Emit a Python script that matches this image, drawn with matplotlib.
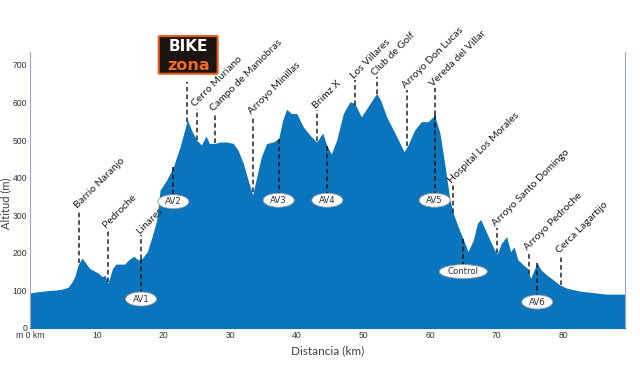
import numpy as np
import matplotlib
matplotlib.use("Agg")
import matplotlib.pyplot as plt
from matplotlib.patches import FancyBboxPatch, Ellipse

# elevation profile (km, m)
dist = [0, 1, 2, 3, 4, 4.7, 5.7, 6.2, 6.7, 7.2, 7.8, 8.9, 10.2, 10.9, 11.2, 11.7,
        12.4, 12.9, 14.2, 14.9, 15.6, 16.2, 16.7, 17.6, 18.3, 19.0, 19.5, 20.5,
        21.5, 22.5, 23.2, 23.6, 24.2, 25.0, 25.7, 26.4, 26.9, 27.7, 28.5, 29.5,
        30.5, 31.2, 32.0, 32.7, 33.4, 34.0, 34.7, 35.5, 36.5, 37.3, 37.9, 38.5,
        39.2, 40.0, 41.0, 42.0, 43.0, 43.9, 44.5, 45.2, 46.0, 47.0, 48.0, 48.7,
        49.7, 50.7, 51.5, 52.0, 52.6, 53.5, 54.5, 55.4, 56.1, 56.7, 57.7, 58.7,
        59.7, 60.7, 61.5, 62.2, 63.0, 63.5, 64.2, 65.0, 65.7, 66.5, 67.1, 67.6,
        68.2, 69.0, 69.7, 70.1, 70.7, 71.5, 72.1, 72.6, 73.2, 74.0, 74.6, 75.1,
        75.6, 76.1, 76.7, 77.5, 78.5, 79.5, 80.5, 82.5, 84.5, 86.5, 89.3]
alt = [93, 96, 98, 100, 101, 103, 108, 120, 136, 168, 186, 159, 146, 136, 141, 120,
       159, 170, 170, 183, 191, 181, 183, 203, 243, 287, 367, 394,
       429, 482, 527, 555, 527, 500, 487, 511, 491, 491, 495, 495,
       491, 473, 438, 394, 354, 402, 456, 491, 495, 504, 553, 582,
       571, 571, 535, 513, 495, 519, 487, 463, 500, 571, 602, 598,
       562, 589, 611, 624, 606, 562, 527, 495, 469, 487, 527, 549,
       549, 566, 518, 438, 340, 305, 270, 236, 203, 234, 278, 289,
       265, 234, 207, 197, 225, 243, 203, 216, 181, 168, 159, 132,
       154, 172, 154, 141, 128, 114, 106, 98, 94, 90, 90]

# named points: label, km, height of the label anchor (m)
wp_names = ["Barrio Naranjo", "Pedroche", "Linares", "Cerro Muriano",
            "Campo de Maniobras", "Arroyo Minillas", "Brimz X", "Los Villares",
            "Club de Golf", "Arroyo Don Lucas", "Vereda del Villar",
            "Hospital Los Morales", "Arroyo Santo Domingo", "Arroyo Pedroche",
            "Cerca Lagartijo"]
wp_km = [7.4, 11.65, 16.65, 25.0, 27.7, 33.5, 43.1, 48.8, 52.0, 56.6, 60.7,
         63.5, 70.0, 74.9, 79.6]
wp_top = [314, 262, 247, 584, 572, 564, 580, 660, 668, 633, 639, 380, 266, 202, 194]

# aid stations / control: label, km, height of the ellipse (m)
av_names = ["AV1", "AV2", "AV3", "AV4", "AV5", "Control", "AV6"]
av_km = [16.65, 21.5, 37.3, 44.6, 60.7, 65.0, 76.1]
av_y = [77, 336, 340, 340, 340, 150, 69]

blue = "#0a74bd"
dash = (0, (3, 2))

fig = plt.figure(figsize=(6.4, 3.84), dpi=100)
ax = fig.add_axes([0.047, 0.146, 0.93, 0.719])
ax.fill_between(dist, alt, 0, color=blue, lw=0)
ax.set_xlim(0, 89.3)
ax.set_ylim(0, 735)

for s in ["left", "right"]:
    ax.spines[s].set_color("#a0a0d8")
ax.spines["top"].set_visible(False)
ax.spines["bottom"].set_color(blue)

ax.set_yticks(range(0, 701, 100))
ax.set_xticks(range(0, 81, 10))
ax.set_xticklabels(["m 0 km"] + [str(v) for v in range(10, 81, 10)])
ax.tick_params(length=0, labelsize=6.2, colors="#333333", pad=2)
for lab in ax.get_xticklabels() + ax.get_yticklabels():
    lab.set_family("Liberation Sans")
ax.set_xlabel("Distancia (km)", fontsize=8.5, color="#404040", family="Lato", labelpad=4)
ax.set_ylabel("Altitud (m)", fontsize=8, color="#404040", family="Lato")
ax.yaxis.set_label_coords(-0.031, 0.45)

for name, k, top in zip(wp_names, wp_km, wp_top):
    ground = np.interp(k, dist, alt)
    ax.plot([k, k], [ground, top], color="#222222", lw=1.1, ls=dash, clip_on=False)
    ax.annotate(name, (k, top), xytext=(-1, 1), textcoords="offset points",
                rotation=45, rotation_mode="anchor", ha="left", va="baseline",
                fontsize=7.5, color="#1a1a1a", family="Lato", annotation_clip=False)

# ellipse sizes in data units (about 30 x 13 px, Control 48 px wide)
px_km = 89.3 / (0.93 * 640)
px_m = 735 / (0.719 * 384)
for name, k, yy in zip(av_names, av_km, av_y):
    ground = np.interp(k, dist, alt)
    ax.plot([k, k], [ground, yy], color="#111111", lw=1.1, ls=dash)
    w = 48 if name == "Control" else 31
    ax.add_patch(Ellipse((k, yy), w * px_km, 14 * px_m, fc="white", ec="#9a9a9a",
                         lw=0.6, zorder=3))
    ax.text(k, yy, name, ha="center", va="center", fontsize=6.2, color="#333333",
            family="DejaVu Sans", zorder=4)

# BIKE zona logo with its marker line to the first summit
logo_km = 23.5
ax.plot([logo_km, logo_km], [np.interp(logo_km, dist, alt), 655], color="#222222",
        lw=1.1, ls=dash, clip_on=False)
fig.patches.append(FancyBboxPatch((0.250, 0.810), 0.088, 0.094,
                                  boxstyle="round,pad=0.002", transform=fig.transFigure,
                                  fc="#1c1410", ec="#e8561c", lw=1.5))
fig.text(0.294, 0.878, "BIKE", ha="center", va="center", fontsize=11,
         weight="bold", color="white", family="DejaVu Sans")
fig.text(0.294, 0.830, "zona", ha="center", va="center", fontsize=11.5,
         weight="bold", color="#f26a21", family="DejaVu Sans")

fig.savefig("out.png", dpi=100)
